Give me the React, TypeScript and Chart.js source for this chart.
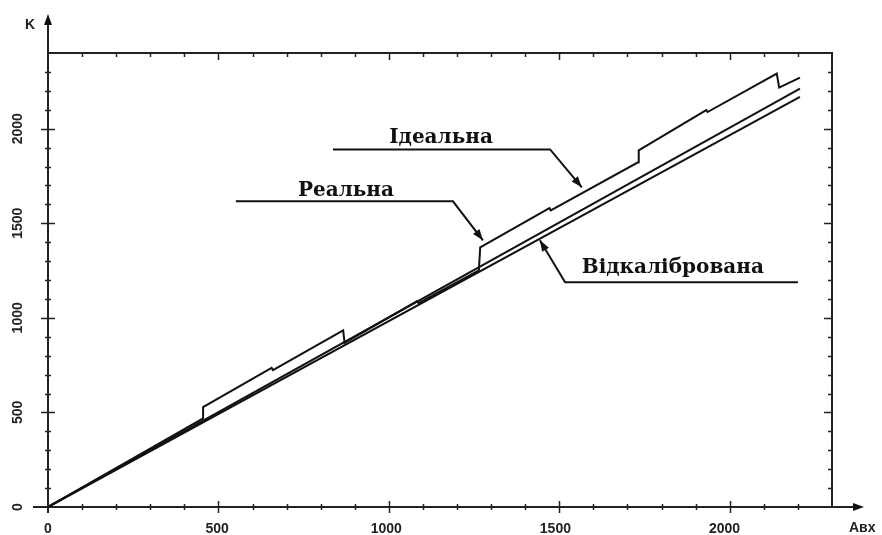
import React, { useEffect, useRef } from "react";
import { Chart, registerables } from "chart.js";
Chart.register(...registerables);

// Stepped ("Реальна") characteristic
const realX = [0, 455, 455, 656, 660, 866, 870, 1083, 1087, 1264, 1268, 1471, 1475, 1731, 1733, 1931, 1935, 2138, 2145, 2206];
const realY = [0, 468, 528, 736, 724, 934, 868, 1088, 1078, 1251, 1373, 1580, 1568, 1822, 1885, 2098, 2088, 2291, 2217, 2270];
// Ideal straight line
const idealX = [0, 2206];
const idealY = [0, 2212];
// Calibrated straight line
const calibX = [0, 2206];
const calibY = [0, 2168];

const xTicks = [0, 500, 1000, 1500, 2000];
const yTicks = [0, 500, 1000, 1500, 2000];
const xMax = 2300;
const yMax = 2400;

const labelIdeal = "Ідеальна";
const labelReal = "Реальна";
const labelCalib = "Відкалібрована";
const xAxisTitle = "Aвх";
const yAxisTitle = "K";

const toPts = (xs: number[], ys: number[]) => xs.map((v, i) => ({ x: v, y: ys[i] }));

function arrowHead(ctx: CanvasRenderingContext2D, fx: number, fy: number, tx: number, ty: number, len: number, half: number) {
  const ang = Math.atan2(ty - fy, tx - fx);
  ctx.beginPath();
  ctx.moveTo(tx, ty);
  ctx.lineTo(tx - len * Math.cos(ang) + half * Math.sin(ang), ty - len * Math.sin(ang) - half * Math.cos(ang));
  ctx.lineTo(tx - len * Math.cos(ang) - half * Math.sin(ang), ty - len * Math.sin(ang) + half * Math.cos(ang));
  ctx.closePath();
  ctx.fill();
}

const framePlugin = {
  id: "framePlugin",
  beforeDatasetsDraw(chart: any) {
    const { ctx, chartArea: a, scales } = chart;
    const sx = scales.x, sy = scales.y;
    ctx.save();
    ctx.strokeStyle = "#222";
    ctx.fillStyle = "#111";
    ctx.lineWidth = 2;
    // frame top/right
    ctx.beginPath();
    ctx.moveTo(a.left, a.top);
    ctx.lineTo(a.right, a.top);
    ctx.lineTo(a.right, a.bottom);
    ctx.stroke();
    // axes with arrows
    ctx.beginPath();
    ctx.moveTo(a.left, a.bottom + 6);
    ctx.lineTo(a.left, 18);
    ctx.moveTo(a.left - 15, a.bottom);
    ctx.lineTo(860, a.bottom);
    ctx.stroke();
    arrowHead(ctx, a.left, 100, a.left, 14, 11, 4);
    arrowHead(ctx, 700, a.bottom, 864, a.bottom, 11, 4);
    // ticks
    ctx.lineWidth = 1.5;
    ctx.beginPath();
    for (let v = 100; v < xMax; v += 100) {
      const p = Math.round(sx.getPixelForValue(v)) + 0.5;
      const big = v % 500 === 0;
      const l = big ? 6 : 3;
      ctx.moveTo(p, a.bottom - l);
      ctx.lineTo(p, a.bottom + l);
      ctx.moveTo(p, a.top);
      ctx.lineTo(p, a.top + l + 1);
    }
    for (let v = 100; v < yMax; v += 100) {
      const p = Math.round(sy.getPixelForValue(v)) + 0.5;
      const big = v % 500 === 0;
      const l = big ? 7 : 3;
      ctx.moveTo(a.left - l, p);
      ctx.lineTo(a.left + l, p);
      ctx.moveTo(a.right, p);
      ctx.lineTo(a.right - l - 1, p);
    }
    ctx.stroke();
    // tick labels
    ctx.font = "bold 14px 'Liberation Sans', Arial, sans-serif";
    ctx.fillStyle = "#222";
    ctx.textAlign = "center";
    ctx.textBaseline = "middle";
    xTicks.forEach((v) => {
      const p = sx.getPixelForValue(v);
      ctx.fillText(String(v), p - (v / 500) * 1.3, a.bottom + 22);
    });
    yTicks.forEach((v) => {
      const p = sy.getPixelForValue(v);
      ctx.save();
      ctx.translate(18, p);
      ctx.rotate(-Math.PI / 2);
      ctx.fillText(String(v), 0, 0);
      ctx.restore();
    });
    ctx.textAlign = "left";
    ctx.fillText(xAxisTitle, 849, a.bottom + 21);
    ctx.font = "bold 14px 'Liberation Sans', Arial, sans-serif";
    ctx.textAlign = "center";
    ctx.fillText(yAxisTitle, 30, 25);
    ctx.restore();
  },
  afterDatasetsDraw(chart: any) {
    const { ctx, scales } = chart;
    const sx = scales.x, sy = scales.y;
    const P = (x: number, y: number) => [sx.getPixelForValue(x), sy.getPixelForValue(y)];
    ctx.save();
    ctx.strokeStyle = "#111";
    ctx.fillStyle = "#111";
    ctx.lineWidth = 2;
    const leader = (pts: number[][]) => {
      const px = pts.map((q) => P(q[0], q[1]));
      ctx.beginPath();
      ctx.moveTo(px[0][0], px[0][1]);
      for (let i = 1; i < px.length; i++) ctx.lineTo(px[i][0], px[i][1]);
      ctx.stroke();
      const n = px.length;
      arrowHead(ctx, px[n - 2][0], px[n - 2][1], px[n - 1][0], px[n - 1][1], 11, 4);
    };
    leader([[836, 1890], [1473, 1890], [1566, 1690]]);
    leader([[551, 1616], [1188, 1616], [1276, 1410]]);
    leader([[2200, 1188], [1517, 1188], [1443, 1410]]);
    ctx.font = "bold 20px 'DejaVu Serif', serif";
    ctx.textAlign = "center";
    ctx.textBaseline = "middle";
    const t1 = P(1153, 1954);
    ctx.fillText(labelIdeal, t1[0], t1[1]);
    const t2 = P(874, 1674);
    ctx.fillText(labelReal, t2[0], t2[1]);
    const t3 = P(1833, 1262);
    ctx.fillText(labelCalib, t3[0], t3[1]);
    ctx.restore();
  },
};

export default function App() {
  const ref = useRef<HTMLCanvasElement>(null);
  useEffect(() => {
    document.body.style.margin = "0";
    const chart = new Chart(ref.current as HTMLCanvasElement, {
      type: "line",
      data: {
        datasets: [
          { label: labelReal, data: toPts(realX, realY), borderColor: "#111", borderWidth: 2, pointRadius: 0, tension: 0, fill: false },
          { label: labelIdeal, data: toPts(idealX, idealY), borderColor: "#111", borderWidth: 2, pointRadius: 0, tension: 0, fill: false },
          { label: labelCalib, data: toPts(calibX, calibY), borderColor: "#111", borderWidth: 2, pointRadius: 0, tension: 0, fill: false },
        ],
      },
      options: {
        responsive: false,
        animation: false,
        devicePixelRatio: 1,
        layout: { padding: { left: 48, top: 53, right: 50, bottom: 28 } },
        plugins: { legend: { display: false }, tooltip: { enabled: false } },
        scales: {
          x: { type: "linear", min: 0, max: xMax, display: false },
          y: { type: "linear", min: 0, max: yMax, display: false },
        },
      },
      plugins: [framePlugin],
    });
    return () => chart.destroy();
  }, []);
  return <canvas ref={ref} width={882} height={535} style={{ display: "block" }} />;
}
